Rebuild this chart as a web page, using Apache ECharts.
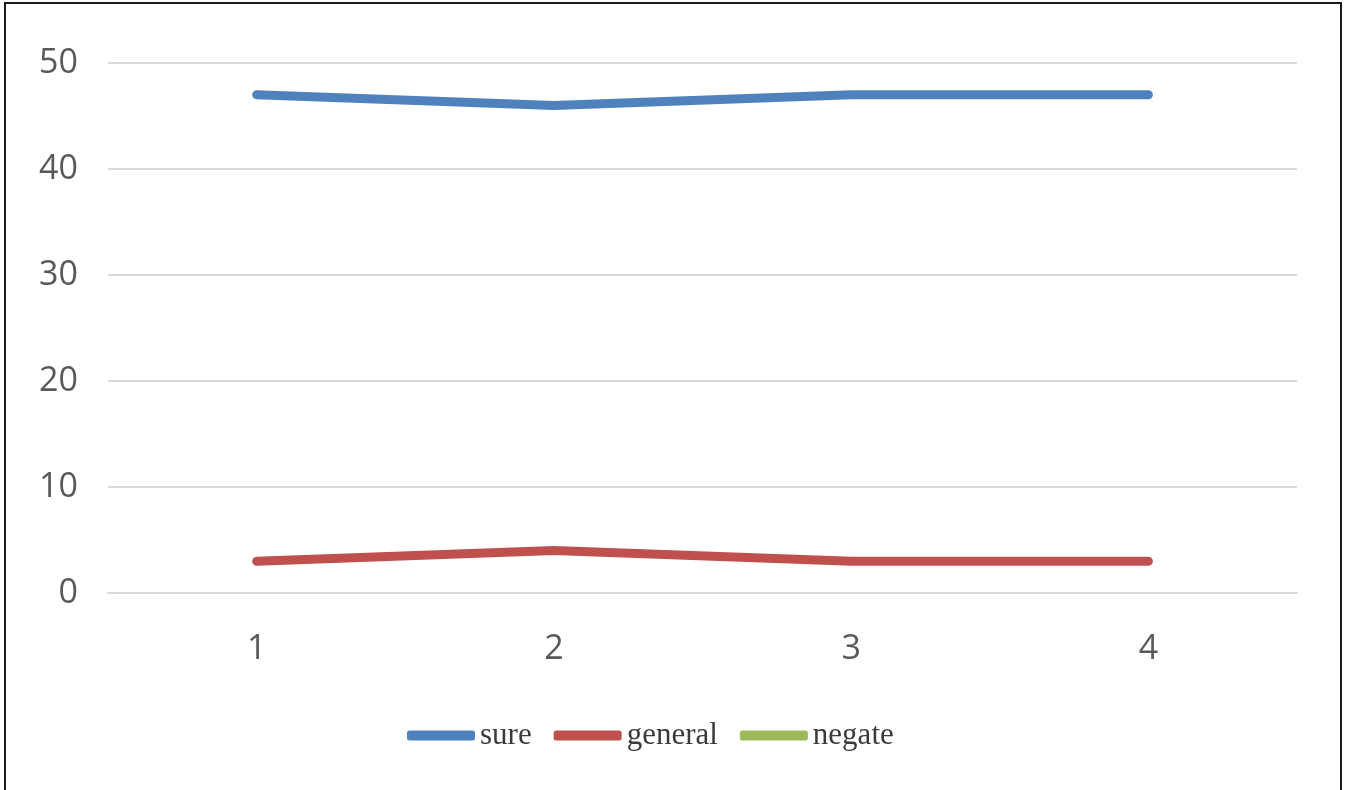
<!DOCTYPE html>
<html>
<head>
<meta charset="utf-8">
<script src="https://cdn.jsdelivr.net/npm/echarts@6/dist/echarts.min.js"></script>
<style>
  html, body { margin: 0; padding: 0; background: #fff; }
  #chart { width: 1345px; height: 790px; }
</style>
</head>
<body>
<div id="chart"></div>
<script>
// Survey responses over four rounds
const categories = ['1', '2', '3', '4'];
const sure = [47, 46, 47, 47];
const general = [3, 4, 3, 3];
const negate = [null, null, null, null];
const seriesNames = ['sure', 'general', 'negate'];
const colors = ['#4F81BD', '#C0504D', '#9BBB59'];

const chart = echarts.init(document.getElementById('chart'));

const lineSeries = (name, data, color) => ({
  name: name,
  type: 'line',
  data: data,
  showSymbol: false,
  symbol: 'none',
  color: color,
  lineStyle: { width: 9, color: color, cap: 'round', join: 'round' },
  emphasis: { disabled: true }
});

const axisFont = '"Open Sans", sans-serif';

chart.setOption({
  animation: false,
  backgroundColor: '#fff',
  graphic: [{
    type: 'rect',
    shape: { x: 5, y: 3, width: 1336, height: 800 },
    style: { fill: 'none', stroke: '#1a1a1a', lineWidth: 2 },
    silent: true,
    z: 100
  }],
  grid: { left: 108, right: 48, top: 63, bottom: 197 },
  legend: {
    data: seriesNames,
    left: 402,
    top: 715,
    icon: 'roundRect',
    itemWidth: 68,
    itemHeight: 10,
    itemGap: 22,
    textStyle: {
      fontFamily: '"Liberation Serif", "DejaVu Serif", serif',
      fontSize: 31,
      color: '#3a3a3a'
    }
  },
  xAxis: {
    type: 'category',
    data: categories,
    boundaryGap: true,
    axisLine: { show: true, lineStyle: { color: '#d9d9d9', width: 2 } },
    axisTick: { show: false },
    axisLabel: {
      color: '#595959',
      fontFamily: axisFont,
      fontSize: 34,
      margin: 39
    }
  },
  yAxis: {
    type: 'value',
    min: 0,
    max: 50,
    interval: 10,
    axisLine: { show: false },
    axisTick: { show: false },
    splitLine: { lineStyle: { color: '#d9d9d9', width: 2 } },
    axisLabel: {
      color: '#595959',
      fontFamily: axisFont,
      fontSize: 34,
      margin: 30
    }
  },
  series: [
    lineSeries(seriesNames[0], sure, colors[0]),
    lineSeries(seriesNames[1], general, colors[1]),
    lineSeries(seriesNames[2], negate, colors[2])
  ]
});
</script>
</body>
</html>
